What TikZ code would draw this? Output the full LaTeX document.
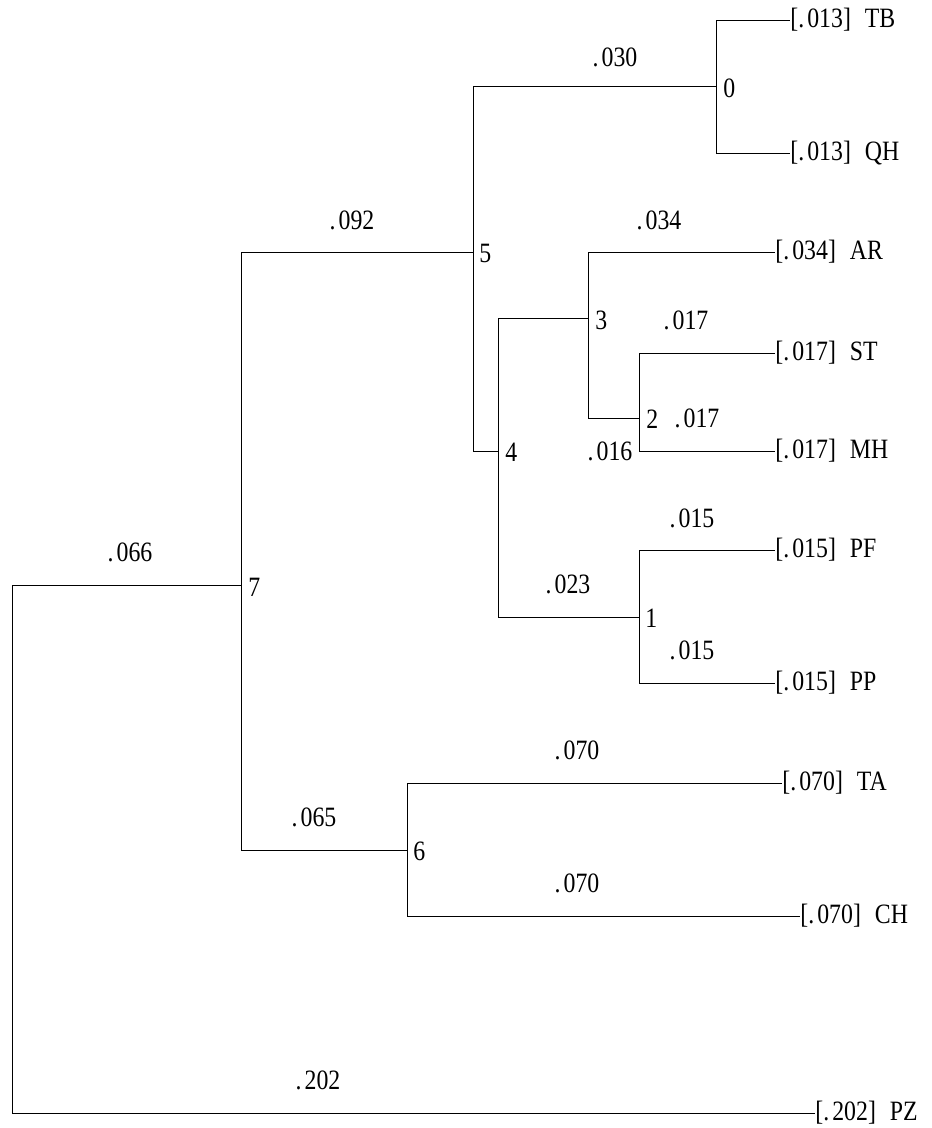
\documentclass[tikz,border=0pt]{standalone}
\usepackage{fontspec}
\setmainfont{Liberation Serif}
\newfontfamily\treefont[FakeStretch=0.85]{Liberation Serif}
\newcommand{\dotnum}[1]{.\kern3pt#1}
\begin{document}
\begin{tikzpicture}[x=1pt,y=-1pt, line width=0.9pt,
  lbl/.style={font=\treefont\fontsize{28}{28}\selectfont, inner sep=0pt},
  leaf/.style={lbl, anchor=west},
  num/.style={lbl, anchor=west},
  br/.style={lbl}]
\useasboundingbox (0,0) rectangle (932,1128);
% internal nodes
\coordinate (n0) at (716,86);
\coordinate (n5) at (473,252);
\coordinate (n3) at (588,318);
\coordinate (n2) at (639,418);
\coordinate (n4) at (498,451);
\coordinate (n1) at (639,617);
\coordinate (n7) at (241,585);
\coordinate (n6) at (407,850);
\coordinate (root) at (12,850);
% leaves
\node[leaf] (TB) at (790,20) {[\dotnum{013}]\hspace{0.5em}TB};
\node[leaf] (QH) at (790,153) {[\dotnum{013}]\hspace{0.5em}QH};
\node[leaf] (AR) at (775,252) {[\dotnum{034}]\hspace{0.5em}AR};
\node[leaf] (ST) at (775,353) {[\dotnum{017}]\hspace{0.5em}ST};
\node[leaf] (MH) at (775,451) {[\dotnum{017}]\hspace{0.5em}MH};
\node[leaf] (PF) at (775,550) {[\dotnum{015}]\hspace{0.5em}PF};
\node[leaf] (PP) at (775,683) {[\dotnum{015}]\hspace{0.5em}PP};
\node[leaf] (TA) at (782,783) {[\dotnum{070}]\hspace{0.5em}TA};
\node[leaf] (CH) at (800,916) {[\dotnum{070}]\hspace{0.5em}CH};
\node[leaf] (PZ) at (815,1113) {[\dotnum{202}]\hspace{0.5em}PZ};
% node numbers
\node[num] (l0) at (723,88) {0};
\node[num] (l5) at (479,253) {5};
\node[num] (l3) at (595,320) {3};
\node[num] (l2) at (646,419) {2};
\node[num] (l4) at (505,452) {4};
\node[num] (l1) at (645,618) {1};
\node[num] (l7) at (248,587) {7};
\node[num] (l6) at (413,851) {6};
% connectors
\draw (n0) |- (TB.west);
\draw (n0) |- (QH.west);
\draw (n3) |- (AR.west);
\draw (n2) |- (ST.west);
\draw (n2) |- (MH.west);
\draw (n1) |- (PF.west);
\draw (n1) |- (PP.west);
\draw (n6) |- (TA.west);
\draw (n6) |- (CH.west);
\draw (root) |- (PZ.west);
\draw (root) |- (n7);
\draw (n7) |- (n5);
\draw (n7) |- (n6);
\draw (n5) |- (n0);
\draw (n5) |- (n4);
\draw (n4) |- (n3);
\draw (n4) |- (n1);
\draw (n3) |- (n2);
% branch lengths
\node[br] (b030) at (615,57) {\dotnum{030}};
\node[br] (b092) at (352,220) {\dotnum{092}};
\node[br] (b034) at (659,220) {\dotnum{034}};
\node[br] (b017a) at (686,320) {\dotnum{017}};
\node[br] (b017b) at (697,418) {\dotnum{017}};
\node[br] (b016) at (610,451) {\dotnum{016}};
\node[br] (b015a) at (692,518) {\dotnum{015}};
\node[br] (b023) at (568,584) {\dotnum{023}};
\node[br] (b015b) at (692,650) {\dotnum{015}};
\node[br] (b066) at (130,552) {\dotnum{066}};
\node[br] (b065) at (314,817) {\dotnum{065}};
\node[br] (b070a) at (577,750) {\dotnum{070}};
\node[br] (b070b) at (577,883) {\dotnum{070}};
\node[br] (b202) at (318,1080) {\dotnum{202}};
\end{tikzpicture}
\end{document}
